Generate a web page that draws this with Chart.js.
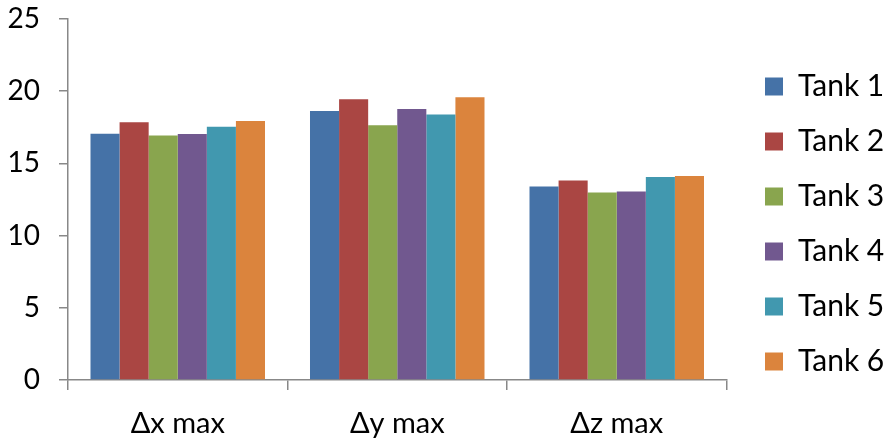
<!DOCTYPE html>
<html>
<head>
<meta charset="utf-8">
<script src="https://cdn.jsdelivr.net/npm/chart.js@4/dist/chart.umd.min.js"></script>
<style>
  html, body { margin: 0; padding: 0; background: #ffffff; }
  #wrap { width: 885px; height: 439px; }
</style>
</head>
<body>
<div id="wrap"><canvas id="c" width="885" height="439"></canvas></div>
<script>
// Peak displacement per direction for each tank
const categories = ['Δx max', 'Δy max', 'Δz max'];
const tankNames = ['Tank 1', 'Tank 2', 'Tank 3', 'Tank 4', 'Tank 5', 'Tank 6'];
const tank1 = [17.05, 18.63, 13.40];
const tank2 = [17.85, 19.44, 13.82];
const tank3 = [16.94, 17.64, 12.99];
const tank4 = [17.03, 18.77, 13.06];
const tank5 = [17.54, 18.38, 14.05];
const tank6 = [17.94, 19.58, 14.12];
const yTicks = [0, 5, 10, 15, 20, 25];

const seriesValues = [tank1, tank2, tank3, tank4, tank5, tank6];
const colors = ['#4572A7', '#AA4643', '#89A54E', '#71588F', '#4198AF', '#DB843D'];

const axisColor = '#888888';
const fontFamily = 'Lato, "Open Sans", sans-serif';

// Legend column: fixed width, items nudged right/down from the plot edge.
const legendWidth = 158.5;
const legendShiftX = 13.5;
const legendShiftY = -5;
const legendSpacer = {
  id: 'legendSpacer',
  beforeLayout(chart) {
    const lg = chart.legend;
    if (lg && !lg._spaced) {
      const fit = lg.fit;
      lg.fit = function () { fit.call(this); this.width = legendWidth; };
      lg._spaced = true;
    }
  },
  afterLayout(chart) {
    const lg = chart.legend;
    if (lg) {
      lg.left += legendShiftX;
      lg.top += legendShiftY;
      lg.bottom += legendShiftY;
    }
  }
};

new Chart(document.getElementById('c'), {
  type: 'bar',
  data: {
    labels: categories,
    datasets: tankNames.map((name, i) => ({
      label: name,
      data: seriesValues[i],
      backgroundColor: colors[i],
      borderWidth: 0,
      categoryPercentage: 0.795,
      barPercentage: 1.0
    }))
  },
  plugins: [legendSpacer],
  options: {
    responsive: false,
    animation: false,
    devicePixelRatio: 1,
    layout: { padding: { left: 0, top: 19, right: 0, bottom: 0 } },
    plugins: {
      tooltip: { enabled: false },
      legend: {
        position: 'right',
        labels: {
          boxWidth: 18,
          boxHeight: 18,
          padding: 25,
          color: '#000000',
          font: { family: fontFamily, size: 30 }
        }
      }
    },
    scales: {
      x: {
        afterFit: (scale) => { scale.height = 59; },
        grid: {
          display: true,
          drawOnChartArea: false,
          drawTicks: true,
          tickLength: 10,
          color: axisColor,
          lineWidth: 1.5,
          offset: true
        },
        border: { display: true, color: axisColor, width: 1.5 },
        ticks: {
          color: '#000000',
          padding: 16,
          font: { family: fontFamily, size: 29 }
        }
      },
      y: {
        min: 0,
        max: 25,
        afterBuildTicks: (scale) => { scale.ticks = yTicks.map(v => ({ value: v })); },
        afterFit: (scale) => {
          scale.width = 68;
          scale.paddingTop = 0;
          scale.paddingBottom = 0;
        },
        grid: {
          display: true,
          drawOnChartArea: false,
          drawTicks: true,
          tickLength: 9,
          color: axisColor,
          lineWidth: 1.5
        },
        border: { display: true, color: axisColor, width: 1.5 },
        ticks: {
          color: '#000000',
          padding: 19,
          font: { family: fontFamily, size: 28 }
        }
      }
    }
  }
});
</script>
</body>
</html>
